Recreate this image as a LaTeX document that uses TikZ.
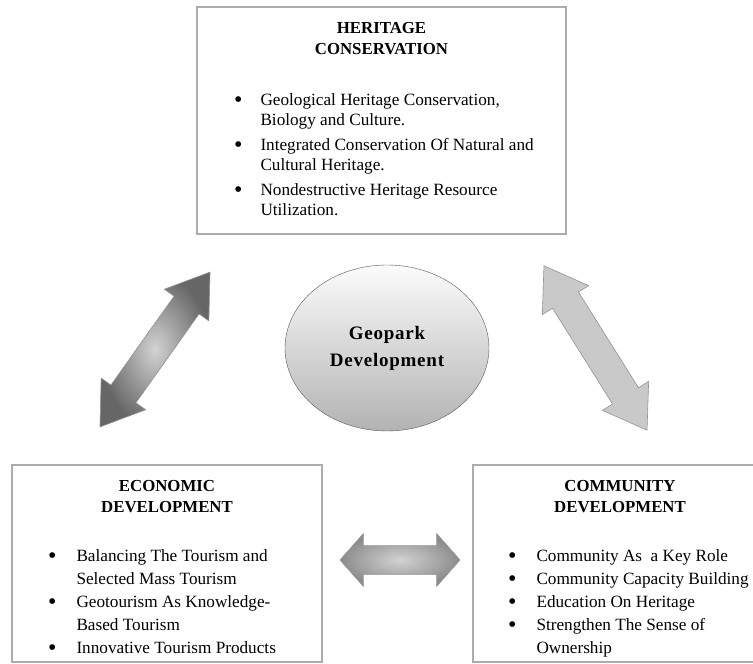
\documentclass[tikz,border=0pt]{standalone}
\usepackage{fontspec}
\setmainfont{Liberation Serif}
\newfontfamily\hubfont[LetterSpace=4]{Liberation Serif}
\usetikzlibrary{shapes,arrows,positioning}

% larger list bullet
\newcommand{\bul}{\raisebox{-1.5pt}{\fontsize{24}{20}\selectfont\textbullet}}

\begin{document}
\begin{tikzpicture}[x=1pt, y=1pt, node distance=16pt]

% box style
\tikzstyle{bx} = [
    draw = gray!65,
    line width = 2.2pt,
    rectangle,
    inner sep = 0pt
]

% title style
\tikzstyle{ttl} = [
    font = \fontsize{16.8}{21.5}\selectfont\bfseries,
    align = center,
    inner sep = 0pt
]

% bullet list style
\tikzstyle{itm} = [
    font = \fontsize{17.2}{20}\selectfont,
    anchor = base west,
    inner sep = 0pt
]

% centre ellipse style
\tikzstyle{hub} = [
    ellipse,
    draw = gray!70!black,
    top color = gray!3,
    bottom color = gray!60,
    minimum width = 204pt,
    minimum height = 166pt,
    align = center,
    font = \fontsize{19}{27}\selectfont\hubfont\bfseries
]

% double arrow style
\tikzstyle{arr} = [
    double arrow,
    draw = gray!85,
    line width = 0.6pt,
    inner xsep = 0pt,
    inner ysep = 15pt,
    double arrow head extend = 12pt,
    double arrow tip angle = 68
]

\useasboundingbox (0,0) rectangle (753,664);

% Place the boxes.
\node [bx, minimum width=369pt, minimum height=227pt] (heritage) at (381.5,543.5) {};
\node [bx, minimum width=310pt, minimum height=197pt] (economic) at (167,100.5) {};
\node [bx, minimum width=294pt, minimum height=197pt] (community) at (620,100.5) {};

% Box titles.
\node [ttl, below=of heritage.north] (heritage-title) {HERITAGE\\CONSERVATION};
\node [ttl, below=of economic.north] (economic-title) {ECONOMIC\\DEVELOPMENT};
\node [ttl, below=of community.north] (community-title) {COMMUNITY\\DEVELOPMENT};

% Box contents.
\node [itm, xshift=38pt, yshift=-100pt] (heritage-items) at (heritage.north west) {%
    \begin{tabular}[t]{@{}l@{\hspace{18pt}}l@{}}
    \bul & Geological Heritage Conservation,\\
         & Biology and Culture.\\[5pt]
    \bul & Integrated Conservation Of Natural and\\
         & Cultural Heritage.\\[5pt]
    \bul & Nondestructive Heritage Resource\\
         & Utilization.
    \end{tabular}};

\node [itm, font=\fontsize{17.2}{23}\selectfont, xshift=37pt, yshift=-98pt] (economic-items) at (economic.north west) {%
    \begin{tabular}[t]{@{}l@{\hspace{20pt}}l@{}}
    \bul & Balancing The Tourism and\\
         & Selected Mass Tourism\\
    \bul & Geotourism As Knowledge-\\
         & Based Tourism\\
    \bul & Innovative Tourism Products
    \end{tabular}};

\node [itm, font=\fontsize{17.2}{23}\selectfont, xshift=36pt, yshift=-98pt] (community-items) at (community.north west) {%
    \begin{tabular}[t]{@{}l@{\hspace{20pt}}l@{}}
    \bul & Community As\ \ a Key Role\\
    \bul & Community Capacity Building\\
    \bul & Education On Heritage\\
    \bul & Strengthen The Sense of\\
         & Ownership
    \end{tabular}};

% Centre node.
\node [hub] (geopark) at (387,316) {Geopark\\Development};

% Double arrows between the boxes.
\node [arr, minimum height=190pt, rotate=54.6, inner color=gray!35, outer color=black!60] (arrow-left) at (155,314.5) {};
\node [arr, minimum height=194pt, rotate=-57.9, fill=gray!42] (arrow-right) at (595.5,316) {};
\node [arr, minimum height=120pt, inner ysep=14pt, double arrow tip angle=97, inner color=gray!35, outer color=gray!90] (arrow-bottom) at (400,104) {};

\end{tikzpicture}
\end{document}
